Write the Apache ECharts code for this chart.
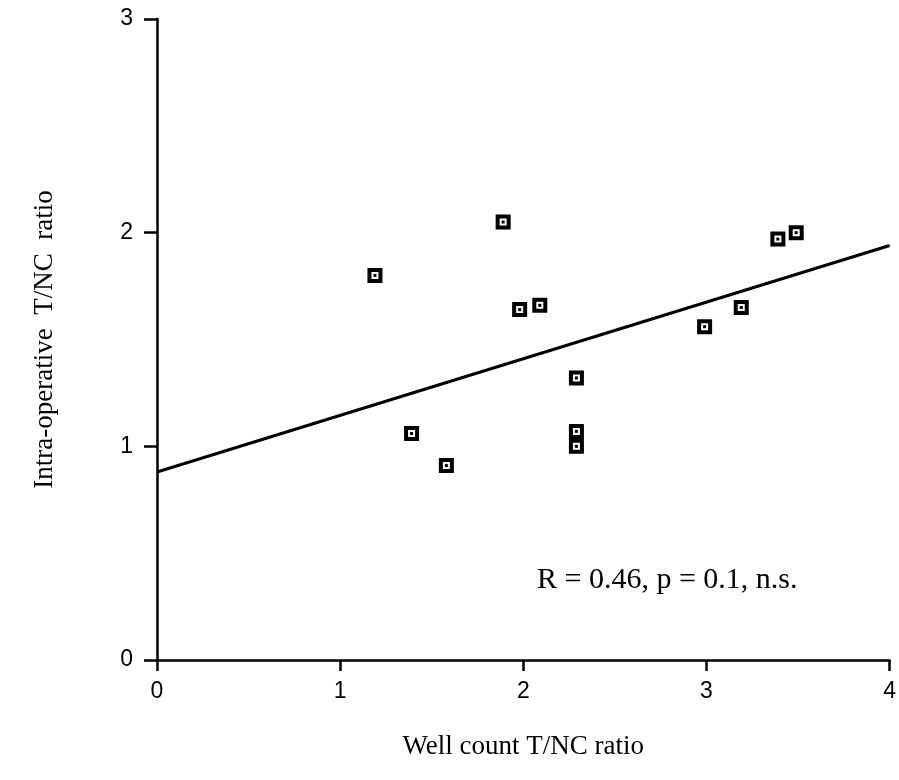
<!DOCTYPE html>
<html>
<head>
<meta charset="utf-8">
<script src="https://cdn.jsdelivr.net/npm/echarts@6/dist/echarts.min.js"></script>
<style>
  html, body { margin: 0; padding: 0; background: #fff; }
  #chart { width: 899px; height: 780px; }
</style>
</head>
<body>
<div id="chart"></div>
<script>
// well count T/NC ratio vs intra-operative T/NC ratio
var wellCount = [1.19, 1.39, 1.58, 1.89, 1.98, 2.09, 2.29, 2.29, 2.29, 2.99, 3.19, 3.39, 3.49];
var intraOp   = [1.80, 1.06, 0.91, 2.05, 1.64, 1.66, 1.32, 1.07, 1.00, 1.56, 1.65, 1.97, 2.00];
// regression line end points
var fitX = [0, 4];
var fitY = [0.88, 1.94];
var xTicks = [0, 1, 2, 3, 4];
var yTicks = [0, 1, 2, 3];

var points = wellCount.map(function (x, i) { return [x, intraOp[i]]; });
var fitLine = fitX.map(function (x, i) { return [x, fitY[i]]; });

var chart = echarts.init(document.getElementById('chart'));
var axisFont = { fontFamily: 'Liberation Sans', fontSize: 23, color: '#000' };
var titleFont = { fontFamily: 'Liberation Serif', fontSize: 27, color: '#000' };

chart.setOption({
    animation: false,
    grid: { left: 157, right: 4, top: 19, bottom: 120 },
    xAxis: {
        type: 'value',
        min: xTicks[0],
        max: xTicks[xTicks.length - 1],
        interval: 1,
        name: 'Well count T/NC ratio',
        nameLocation: 'middle',
        nameGap: 73,
        nameTextStyle: titleFont,
        axisLine: { show: true, onZero: false, lineStyle: { color: '#000', width: 2.5 } },
        axisTick: { show: true, length: 11, lineStyle: { color: '#000', width: 2.5 } },
        axisLabel: Object.assign({ margin: 20 }, axisFont),
        splitLine: { show: false }
    },
    yAxis: {
        type: 'value',
        min: yTicks[0],
        max: yTicks[yTicks.length - 1],
        interval: 1,
        name: 'Intra-operative  T/NC  ratio',
        nameLocation: 'middle',
        nameGap: 99,
        nameTextStyle: titleFont,
        axisLine: { show: true, onZero: false, lineStyle: { color: '#000', width: 2.5 } },
        axisTick: { show: true, length: 13, lineStyle: { color: '#000', width: 2.5 } },
        axisLabel: Object.assign({ margin: 24 }, axisFont),
        splitLine: { show: false }
    },
    graphic: [{
        type: 'text',
        left: 537,
        top: 565,
        style: {
            text: 'R = 0.46, p = 0.1, n.s.',
            font: '30px "Liberation Serif"',
            fill: '#000'
        }
    }],
    series: [
        {
            type: 'line',
            data: fitLine,
            showSymbol: false,
            lineStyle: { color: '#000', width: 3 },
            z: 2
        },
        {
            type: 'scatter',
            data: points,
            symbol: 'rect',
            symbolSize: 11,
            itemStyle: { color: '#fff', borderColor: '#000', borderWidth: 4, opacity: 1 },
            z: 3
        },
        {
            type: 'scatter',
            data: points,
            symbol: 'rect',
            symbolSize: 3,
            itemStyle: { color: '#000', opacity: 1 },
            z: 4
        }
    ]
});
</script>
</body>
</html>
